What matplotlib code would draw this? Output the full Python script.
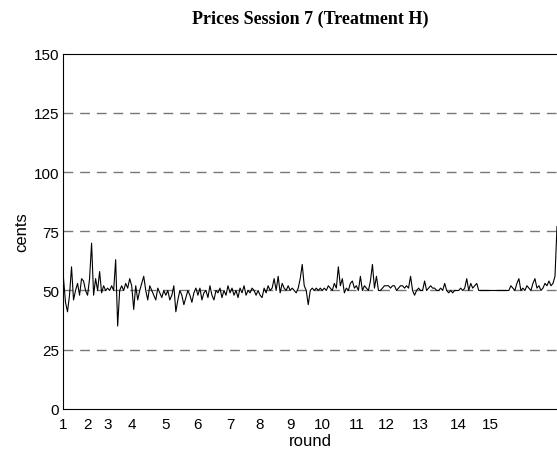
import matplotlib
matplotlib.use("Agg")
import matplotlib.pyplot as plt
import numpy as np

# prices per round (cents)
r1 = [55, 45, 41, 48, 60, 46, 50, 53, 48, 55, 54, 50]
r2 = [48, 55, 70, 48, 55, 50, 58, 49, 52, 50]
r3 = [51, 50, 52, 50, 63, 35, 50, 52, 50, 53, 51, 55]
r4 = [52, 42, 52, 46, 50, 53, 56, 50, 46, 52, 50, 48, 46, 51, 49, 47, 50]
r5 = [48, 50, 46, 48, 52, 41, 46, 50, 48, 44, 47, 50, 48, 45, 49, 51]
r6 = [48, 51, 46, 49, 50, 47, 52, 48, 46, 50, 49, 51, 47, 50, 48, 52]
r7 = [49, 51, 48, 50, 47, 51, 49, 52, 48, 50, 49, 51, 50, 48, 50]
r8 = [48, 47, 51, 49, 52, 50, 51, 55, 50, 56, 49, 53, 51, 50, 52]
r9 = [50, 51, 50, 49, 51, 55, 61, 52, 50, 44, 50, 51, 50, 51, 50, 51]
r10 = [50, 51, 50, 52, 51, 50, 53, 51, 60, 52, 55, 49, 51, 50, 53, 54, 51]
r11 = [52, 50, 56, 50, 52, 51, 50, 54, 61, 51, 56, 50, 50, 51, 52]
r12 = [52, 52, 51, 52, 52, 50, 51, 52, 52, 51, 52, 51, 56, 50, 48, 50, 51]
r13 = [50, 50, 54, 50, 51, 52, 51, 51, 50, 50, 51, 50, 53, 50, 49, 50, 49, 50, 50]
r14 = [50, 51, 50, 51, 55, 50, 53, 51, 52, 53, 50, 50, 50, 50, 50, 50]
r15 = [50, 50, 50, 50, 50, 50, 50, 50, 50, 50,
       52, 51, 50, 53, 55, 50, 51, 50, 52, 51, 50, 53, 55, 51, 52, 50,
       51, 53, 52, 54, 52, 53, 56, 77]

rounds = [r1, r2, r3, r4, r5, r6, r7, r8, r9, r10, r11, r12, r13, r14, r15]
round_labels = [str(i) for i in range(1, 16)]
grid_levels = [25, 50, 75, 100, 125]

prices = np.concatenate(rounds)
trade = np.arange(1, len(prices) + 1)
starts = np.cumsum([0] + [len(r) for r in rounds[:-1]]) + 1

fig = plt.figure(figsize=(5.57, 4.6), dpi=100)
ax = fig.add_axes([0.114, 0.109, 0.886, 0.772])

for lev in grid_levels:
    ax.axhline(lev, color='#777777', linewidth=1.0, linestyle=(0, (7, 5)), zorder=1)

ax.plot(trade, prices, color='black', linewidth=0.8, zorder=2)

ax.set_xlim(1, len(prices))
ax.set_ylim(0, 150)
ax.set_yticks([0, 25, 50, 75, 100, 125, 150])
ax.set_xticks(starts)
ax.set_xticklabels(round_labels)
ax.tick_params(length=0, labelsize=11)
ax.tick_params(axis='x', pad=6)
ax.tick_params(axis='y', pad=3)
for lab in ax.get_xticklabels() + ax.get_yticklabels():
    lab.set_family('Liberation Sans')

ax.spines['right'].set_visible(False)
ax.set_xlabel('round', family='Liberation Sans', fontsize=12, labelpad=1)
ax.set_ylabel('cents', family='Liberation Sans', fontsize=12, labelpad=3)
ax.set_title('Prices Session 7 (Treatment H)', family='Liberation Serif',
             fontweight='bold', fontsize=13, pad=22)

fig.savefig('out.png', dpi=100)
